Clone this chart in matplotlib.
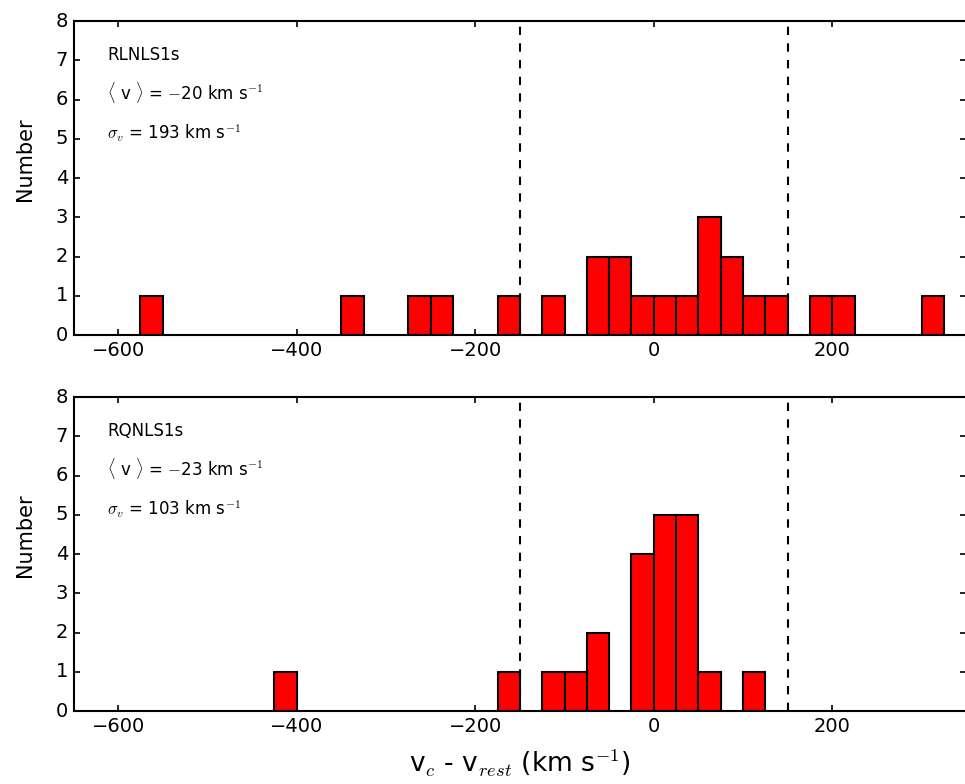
import numpy as np
import matplotlib
matplotlib.use("Agg")
import matplotlib.pyplot as plt

# histogram bins are 25 km/s wide
BIN_WIDTH = 25

# RLNLS1s: left bin edges and counts
rl_edges = [-575, -350, -275, -250, -175, -125, -75, -50, -25, 0, 25, 50, 75, 100, 125, 175, 200, 300]
rl_counts = [1, 1, 1, 1, 1, 1, 2, 2, 1, 1, 1, 3, 2, 1, 1, 1, 1, 1]

# RQNLS1s: left bin edges and counts
rq_edges = [-425, -175, -125, -100, -75, -25, 0, 25, 50, 100]
rq_counts = [1, 1, 1, 1, 2, 4, 5, 5, 1, 1]

panels = [
    ("RLNLS1s", -20, 193, rl_edges, rl_counts),
    ("RQNLS1s", -23, 103, rq_edges, rq_counts),
]

cut = [-150, 150]

plt.style.use('classic')
plt.rcParams['figure.facecolor'] = 'white'
plt.rcParams['savefig.facecolor'] = 'white'

fig = plt.figure(figsize=(9.65, 7.84), dpi=100)
positions = [[0.0762, 0.5727, 0.9251, 0.4005],
             [0.0762, 0.0931, 0.9251, 0.4005]]

for pos, (name, mean_v, sigma_v, edges, counts) in zip(positions, panels):
    ax = fig.add_axes(pos)
    ax.bar(edges, counts, width=BIN_WIDTH, align='edge',
           color='red', edgecolor='black', linewidth=1.5)
    for c in cut:
        ax.axvline(c, color='black', linestyle='--', linewidth=1.5, dashes=(6, 6))
    ax.set_xlim(-650, 350)
    ax.set_ylim(0, 8)
    ax.set_xticks([-600, -400, -200, 0, 200])
    ax.set_yticks(range(0, 9))
    ax.set_ylabel("Number", fontsize=15)
    ax.yaxis.set_label_coords(-0.043, 0.56)
    ax.tick_params(labelsize=14, width=1.2)
    for s in ax.spines.values():
        s.set_linewidth(1.5)
    ax.text(-612, 7.0, name, fontsize=12)
    ax.text(-612, 6.0, r"$\langle$ v $\rangle$ = $-$%d km s$^{-1}$" % abs(mean_v), fontsize=12)
    ax.text(-612, 5.0, r"$\sigma_v$ = %d km s$^{-1}$" % sigma_v, fontsize=12)

ax.set_xlabel(r"v$_c$ - v$_{rest}$ (km s$^{-1}$)", fontsize=19, labelpad=9)

fig.savefig("out.png", dpi=100)
